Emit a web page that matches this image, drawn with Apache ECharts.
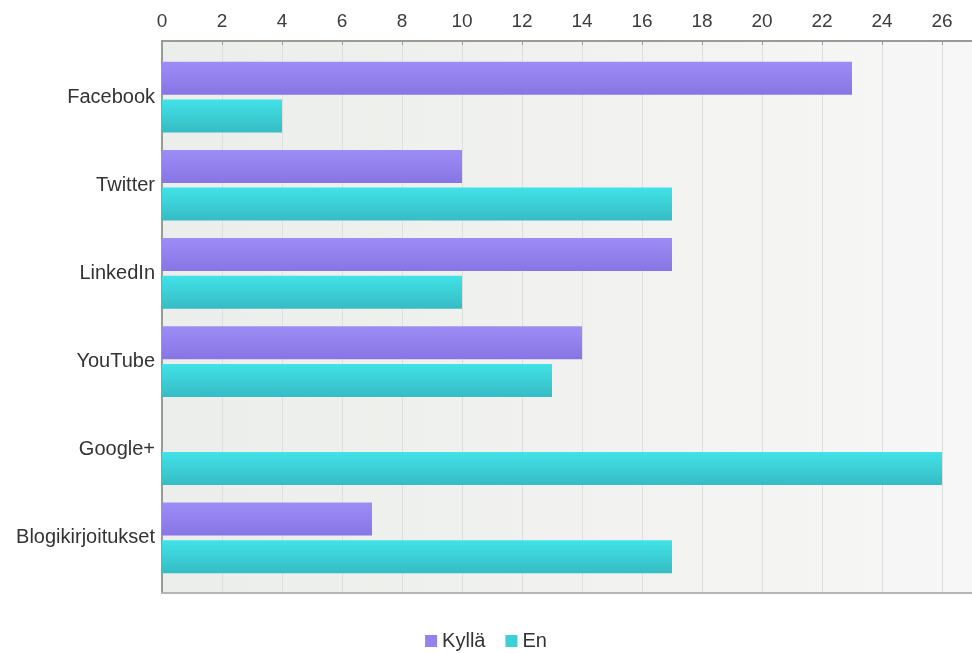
<!DOCTYPE html>
<html>
<head>
<meta charset="utf-8">
<script src="https://cdn.jsdelivr.net/npm/echarts@6/dist/echarts.min.js"></script>
<style>
html,body{margin:0;padding:0;background:#fff;}
#c{width:972px;height:653px;}
</style>
</head>
<body>
<div id="c"></div>
<script>
var categories = ['Facebook', 'Twitter', 'LinkedIn', 'YouTube', 'Google+', 'Blogikirjoitukset'];
var seriesNames = ['Kyllä', 'En'];
var kyllaValues = [23, 10, 17, 14, 0, 7];
var enValues = [4, 17, 10, 13, 26, 17];
var xMin = 0, xMax = 27, xStep = 2;

var chart = echarts.init(document.getElementById('c'), null, {renderer: 'canvas'});
var font = '"Liberation Sans", Arial, Helvetica, sans-serif';

function grad(top, bottom) {
  return new echarts.graphic.LinearGradient(0, 0, 0, 1, [
    {offset: 0, color: top}, {offset: 1, color: bottom}
  ]);
}

var option = {
  animation: false,
  textStyle: {fontFamily: font},
  grid: [
    {left: 162, right: 0, top: 41, bottom: 60, show: true, borderWidth: 0,
     backgroundColor: new echarts.graphic.LinearGradient(0, 0, 1, 0, [
       {offset: 0, color: '#ebeeea'}, {offset: 0.5, color: '#f1f2ef'}, {offset: 1, color: '#f7f7f7'}
     ])},
    {left: 162, right: 0, top: 53, bottom: 71}
  ],
  xAxis: [
    {gridIndex: 0, type: 'value', position: 'top', min: xMin, max: xMax, interval: xStep,
     axisLine: {show: true, onZero: false, lineStyle: {color: '#9a9a9a', width: 2}},
     axisTick: {show: true, inside: true, length: 4, lineStyle: {color: '#9a9a9a'}},
     axisLabel: {show: true, showMaxLabel: false, color: '#3c3c3c', fontSize: 19, margin: 10, fontFamily: font},
     splitLine: {show: true, lineStyle: {color: '#dedede', width: 1}}},
    {gridIndex: 0, type: 'value', position: 'bottom', min: xMin, max: xMax, interval: xStep,
     axisLine: {show: true, onZero: false, lineStyle: {color: '#b5b5b5', width: 2}},
     axisTick: {show: false}, axisLabel: {show: false}, splitLine: {show: false}},
    {gridIndex: 1, type: 'value', min: xMin, max: xMax, interval: xStep, show: false}
  ],
  yAxis: [
    {gridIndex: 0, type: 'value', min: 0, max: 1,
     axisLine: {show: true, onZero: false, lineStyle: {color: '#9a9a9a', width: 2}},
     axisTick: {show: false}, axisLabel: {show: false}, splitLine: {show: false}},
    {gridIndex: 1, type: 'category', data: categories, inverse: true,
     axisLine: {show: false}, axisTick: {show: false},
     axisLabel: {color: '#333', fontSize: 20, margin: 7, fontFamily: font, padding: [4, 0, 0, 0]},
     splitLine: {show: false}}
  ],
  legend: {
    top: 626, left: 'center', icon: 'rect', itemWidth: 12, itemHeight: 12, itemGap: 20,
    textStyle: {color: '#333', fontSize: 20, fontFamily: font},
    data: [
      {name: seriesNames[0], itemStyle: {color: '#9382ef'}},
      {name: seriesNames[1], itemStyle: {color: '#3ccfd6'}}
    ]
  },
  series: [
    {name: seriesNames[0], type: 'bar', xAxisIndex: 2, yAxisIndex: 1, data: kyllaValues,
     barWidth: 33, barGap: '14%',
     itemStyle: {color: grad('#9e8cf6', '#8775e4'), borderWidth: 0}},
    {name: seriesNames[1], type: 'bar', xAxisIndex: 2, yAxisIndex: 1, data: enValues,
     barWidth: 33, barGap: '14%',
     itemStyle: {color: grad('#41e2e8', '#36bcc4'), borderWidth: 0}}
  ]
};
chart.setOption(option);
</script>
</body>
</html>
